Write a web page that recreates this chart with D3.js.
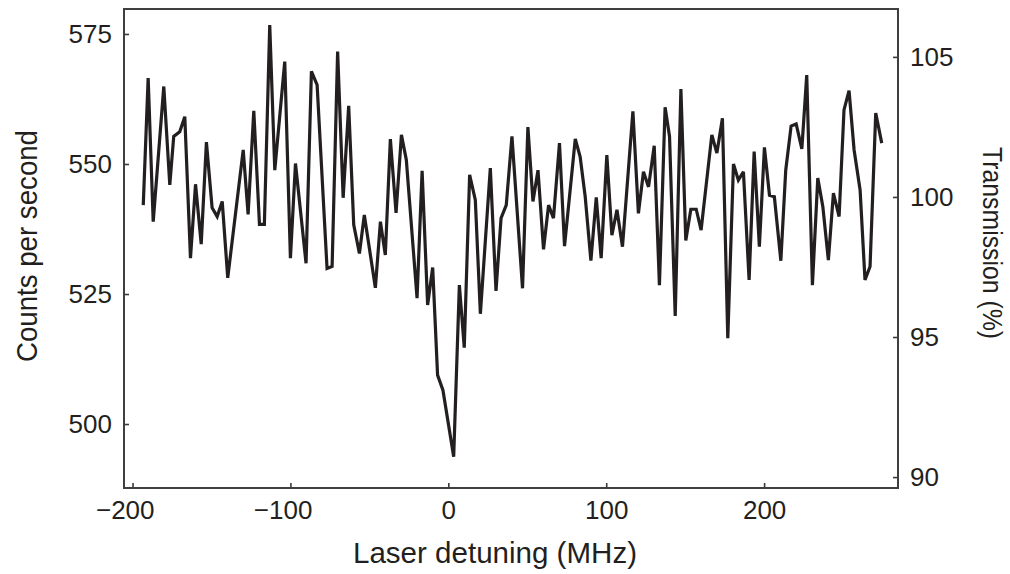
<!DOCTYPE html>
<html lang="en">
<head>
<meta charset="UTF-8" />
<title>Counts per second vs laser detuning</title>
<style>
  body { margin: 0; background: #fff; }
  text { font-family: "Liberation Sans", Arial, sans-serif; fill: #231f20; }
</style>
</head>
<body>
<svg width="1010" height="574"></svg>
<script src="https://cdn.jsdelivr.net/npm/d3@7/dist/d3.min.js"></script>
<script>
// detuning in MHz, counts per second
var detuning = [-193.2, -190.1, -186.9, -180.2, -176.4, -173.9, -170.1, -166.9, -163.3, -160.1,
  -156.5, -153.2, -149.6, -146.4, -143.2, -139.7, -129.9, -126.8, -123.2, -119.6,
  -116.5, -113.1, -109.9, -103.6, -100.0, -96.8, -90.1, -86.7, -83.1, -76.8,
  -73.6, -70.1, -66.6, -63.1, -59.9, -56.3, -53.2, -46.2, -43.0, -39.9,
  -36.7, -33.1, -29.7, -26.6, -19.8, -16.6, -13.1, -9.9, -6.8, -3.4,
  3.4, 7.0, 10.1, 13.5, 17.1, 20.3, 26.6, 30.2, 33.4, 36.7,
  40.3, 47.0, 50.4, 53.6, 56.8, 60.3, 63.5, 66.6, 70.4, 73.6,
  80.4, 83.5, 86.7, 90.3, 93.7, 96.8, 100.4, 103.6, 106.8, 110.3,
  116.9, 120.4, 123.6, 126.8, 130.4, 133.7, 137.3, 140.1, 143.7, 147.3,
  150.4, 153.6, 157.0, 160.1, 166.9, 170.1, 173.6, 177.0, 180.6, 183.7,
  186.9, 190.5, 193.7, 197.0, 200.2, 203.4, 206.5, 210.6, 213.7, 217.1,
  220.3, 223.9, 227.0, 230.6, 234.0, 237.2, 240.7, 243.9, 247.5, 250.6,
  253.8, 257.0, 260.8, 263.9, 267.1, 270.7, 274.5];

var counts = [542.1, 566.5, 538.9, 564.9, 546.0, 555.3, 556.2, 559.1, 531.9, 546.1,
  534.6, 554.2, 541.6, 539.9, 542.8, 528.1, 552.7, 540.3, 560.2, 538.4,
  538.4, 576.7, 548.8, 569.7, 531.9, 550.1, 530.9, 567.8, 565.2, 529.9,
  530.3, 571.6, 543.5, 561.2, 538.3, 532.8, 540.2, 526.2, 538.9, 532.5,
  554.8, 540.6, 555.6, 550.8, 524.2, 548.7, 522.9, 530.1, 509.4, 506.5,
  493.7, 526.7, 514.7, 547.9, 543.1, 521.2, 549.2, 525.6, 539.6, 542.1,
  555.3, 526.1, 557.1, 542.8, 548.8, 533.6, 542.1, 539.6, 554.0, 534.2,
  554.8, 551.4, 543.7, 531.4, 543.6, 531.9, 551.7, 536.3, 541.2, 534.1,
  560.1, 540.5, 548.5, 545.6, 553.5, 526.7, 560.9, 555.3, 520.8, 564.4,
  535.3, 541.3, 541.3, 537.3, 555.6, 552.1, 558.8, 516.5, 550.0, 546.9,
  548.5, 527.7, 552.4, 534.1, 553.2, 544.0, 543.7, 531.4, 548.8, 557.3,
  557.7, 552.9, 567.1, 526.7, 547.3, 541.8, 531.5, 544.4, 539.9, 560.4,
  564.1, 552.7, 545.0, 527.7, 530.3, 559.8, 554.0];

var xTicks = [-200, -100, 0, 100, 200];
var countTicks = [500, 525, 550, 575];
var transTicks = [90, 95, 100, 105];

var svg = d3.select("svg");
var margin = { top: 9, right: 112, bottom: 86, left: 124 };
var W = 1010, H = 574;
var ink = "#231f20";

var x = d3.scaleLinear().domain([-205.4, 284.8]).range([margin.left, W - margin.right]);
var yL = d3.scaleLinear().domain([487.7, 579.8]).range([H - margin.bottom, margin.top]);
var yR = d3.scaleLinear().domain([89.61, 106.71]).range([H - margin.bottom, margin.top]);

var fmt = function(d) { return d < 0 ? "\u2212" + Math.abs(d) : String(d); };

// bottom axis
var gx = svg.append("g")
  .attr("transform", "translate(0," + (H - margin.bottom) + ")")
  .call(d3.axisBottom(x).tickValues(xTicks).tickFormat(fmt).tickSizeInner(-5).tickSizeOuter(0).tickPadding(13));
gx.selectAll("text").attr("dx", function(d) { return d < 0 ? "-0.3em" : 0; });

// left axis
var gl = svg.append("g")
  .attr("transform", "translate(" + margin.left + ",0)")
  .call(d3.axisLeft(yL).tickValues(countTicks).tickSizeInner(-5).tickSizeOuter(0).tickPadding(12));

// right axis
var gr = svg.append("g")
  .attr("transform", "translate(" + (W - margin.right) + ",0)")
  .call(d3.axisRight(yR).tickValues(transTicks).tickSizeInner(-5).tickSizeOuter(0).tickPadding(12));

[gx, gl, gr].forEach(function(g) {
  g.select(".domain").remove();
  g.selectAll(".tick line").attr("stroke", "#3a3a3a").attr("stroke-width", 1.6);
  g.selectAll("text").attr("font-size", 26).attr("font-family", null).attr("fill", ink);
});

// frame
svg.append("rect")
  .attr("x", margin.left).attr("y", margin.top)
  .attr("width", W - margin.left - margin.right)
  .attr("height", H - margin.top - margin.bottom)
  .attr("fill", "none").attr("stroke", "#3f3f3f").attr("stroke-width", 2);

// trace
var line = d3.line()
  .x(function(d, i) { return x(detuning[i]); })
  .y(function(d) { return yL(d); });

svg.append("path")
  .datum(counts)
  .attr("d", line)
  .attr("fill", "none")
  .attr("stroke", ink)
  .attr("stroke-width", 3.2)
  .attr("stroke-linejoin", "miter")
  .attr("stroke-miterlimit", 3);

// axis titles (condensed face in the original, so squeeze/stretch to its extents)
svg.append("text")
  .attr("x", 495)
  .attr("y", 563)
  .attr("text-anchor", "middle")
  .attr("font-size", 29)
  .attr("textLength", 284)
  .attr("lengthAdjust", "spacingAndGlyphs")
  .text("Laser detuning (MHz)");

svg.append("text")
  .attr("transform", "translate(37,246) rotate(-90)")
  .attr("text-anchor", "middle")
  .attr("font-size", 29)
  .attr("textLength", 232)
  .attr("lengthAdjust", "spacingAndGlyphs")
  .text("Counts per second");

svg.append("text")
  .attr("transform", "translate(983,243) rotate(90)")
  .attr("text-anchor", "middle")
  .attr("font-size", 28)
  .attr("textLength", 192)
  .attr("lengthAdjust", "spacingAndGlyphs")
  .text("Transmission (%)");
</script>
</body>
</html>
